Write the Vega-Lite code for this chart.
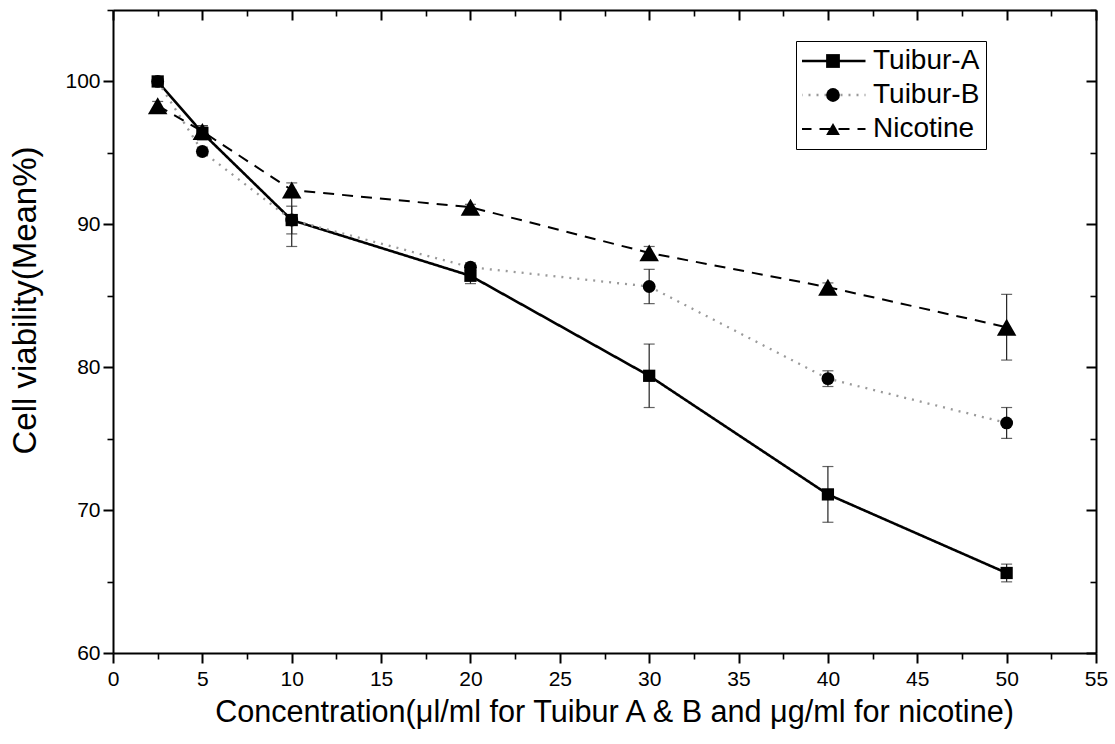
{
  "$schema": "https://vega.github.io/schema/vega-lite/v6.json",
  "autosize": "none",
  "width": 983,
  "height": 643,
  "padding": {"left": 113, "top": 10, "right": 19, "bottom": 91},
  "background": "white",
  "config": {
    "view": {"stroke": null},
    "font": "Liberation Sans",
    "axis": {
      "domainColor": "black",
      "domainWidth": 2,
      "tickColor": "black",
      "tickWidth": 2,
      "labelColor": "black",
      "titleColor": "black",
      "labelFont": "Liberation Sans",
      "titleFont": "Liberation Sans",
      "titleFontWeight": "normal",
      "grid": false
    }
  },
  "data": {
    "values": [
      {"series": "Tuibur-A", "conc": 2.5, "mean": 100.0, "err": 0.2},
      {"series": "Tuibur-A", "conc": 5, "mean": 96.4, "err": 0.5},
      {"series": "Tuibur-A", "conc": 10, "mean": 90.3, "err": 0.97},
      {"series": "Tuibur-A", "conc": 20, "mean": 86.4, "err": 0.55},
      {"series": "Tuibur-A", "conc": 30, "mean": 79.4, "err": 2.22},
      {"series": "Tuibur-A", "conc": 40, "mean": 71.1, "err": 1.95},
      {"series": "Tuibur-A", "conc": 50, "mean": 65.6, "err": 0.62},
      {"series": "Tuibur-B", "conc": 2.5, "mean": 100.0, "err": 0.2},
      {"series": "Tuibur-B", "conc": 5, "mean": 95.1, "err": 0.3},
      {"series": "Tuibur-B", "conc": 10, "mean": 90.3, "err": 1.85},
      {"series": "Tuibur-B", "conc": 20, "mean": 87.0, "err": 0.3},
      {"series": "Tuibur-B", "conc": 30, "mean": 85.65, "err": 1.2},
      {"series": "Tuibur-B", "conc": 40, "mean": 79.2, "err": 0.55},
      {"series": "Tuibur-B", "conc": 50, "mean": 76.1, "err": 1.08},
      {"series": "Nicotine", "conc": 2.5, "mean": 98.3, "err": 0.3},
      {"series": "Nicotine", "conc": 5, "mean": 96.5, "err": 0.4},
      {"series": "Nicotine", "conc": 10, "mean": 92.4, "err": 0.5},
      {"series": "Nicotine", "conc": 20, "mean": 91.2, "err": 0.2},
      {"series": "Nicotine", "conc": 30, "mean": 88.0, "err": 0.45},
      {"series": "Nicotine", "conc": 40, "mean": 85.6, "err": 0.3},
      {"series": "Nicotine", "conc": 50, "mean": 82.8, "err": 2.3}
    ]
  },
  "layer": [
    {
      "mark": {"type": "line", "clip": true},
      "encoding": {
        "x": {"field": "conc", "type": "quantitative",
          "scale": {"domain": [0, 55], "nice": false, "zero": false},
          "axis": {"orient": "bottom", "values": [0,5,10,15,20,25,30,35,40,45,50,55], "tickSize": 10, "labelFontSize": 21, "labelPadding": 5, "labelFlush": false, "labelOverlap": false,
            "title": "Concentration(μl/ml for Tuibur A & B and μg/ml for nicotine)", "titleFontSize": 30.6, "titlePadding": 8, "titleX": 501}},
        "y": {"field": "mean", "type": "quantitative",
          "scale": {"domain": [60, 105], "nice": false, "zero": false},
          "axis": {"orient": "left", "values": [60,70,80,90,100], "tickSize": 10, "labelFontSize": 21, "labelPadding": 3, "labelFlush": false,
            "title": "Cell viability(Mean%)", "titleFontSize": 33, "titlePadding": 22, "titleY": 290}},
        "detail": {"field": "series"},
        "color": {"field": "series", "type": "nominal",
          "scale": {"domain": ["Tuibur-A", "Tuibur-B", "Nicotine"], "range": ["black", "#9a9a9a", "black"]},
          "legend": {
            "title": null,
            "orient": "none",
            "legendX": 683,
            "legendY": 31,
            "padding": 6,
            "strokeColor": "black",
            "fillColor": "transparent",
            "labelFont": "Liberation Sans",
            "labelFontSize": 28,
            "labelColor": "black",
            "symbolType": "stroke",
            "symbolSize": 4225,
            "symbolOffset": -3,
            "labelOffset": 6,
            "clipHeight": 28,
            "rowPadding": 6
          }},
        "strokeDash": {"field": "series", "type": "nominal",
          "scale": {"domain": ["Tuibur-A", "Tuibur-B", "Nicotine"], "range": [[1, 0], [2, 6], [11, 8]]}},
        "strokeWidth": {"field": "series", "type": "nominal",
          "scale": {"domain": ["Tuibur-A", "Tuibur-B", "Nicotine"], "range": [2.6, 2, 3]}}
      }
    },
    {
      "mark": {"type": "errorbar", "color": "#222", "ticks": {"size": 11, "thickness": 1.2}, "rule": {"strokeWidth": 1.2}},
      "encoding": {
        "x": {"field": "conc", "type": "quantitative", "axis": null},
        "y": {"field": "mean", "type": "quantitative", "axis": null},
        "yError": {"field": "err"},
        "detail": {"field": "series"}
      }
    },
    {
      "transform": [{"filter": "datum.series === 'Tuibur-B'"}],
      "mark": {"type": "point", "filled": true, "color": "black", "opacity": 1, "shape": "circle", "size": 165},
      "encoding": {
        "x": {"field": "conc", "type": "quantitative",
          "axis": {"orient": "bottom", "values": [2.5,7.5,12.5,17.5,22.5,27.5,32.5,37.5,42.5,47.5,52.5], "tickSize": 6, "tickWidth": 1.6, "labels": false, "domain": false, "title": null}},
        "y": {"field": "mean", "type": "quantitative",
          "axis": {"orient": "left", "values": [65,75,85,95,105], "tickSize": 6, "tickWidth": 1.6, "labels": false, "domain": false, "title": null}}
      }
    },
    {
      "transform": [{"filter": "datum.series === 'Nicotine'"}],
      "mark": {"type": "point", "filled": true, "color": "black", "opacity": 1, "shape": "triangle-up", "size": 380},
      "encoding": {
        "x": {"field": "conc", "type": "quantitative", "axis": null},
        "y": {"field": "mean", "type": "quantitative", "axis": null}
      }
    },
    {
      "transform": [{"filter": "datum.series === 'Tuibur-A'"}],
      "mark": {"type": "point", "filled": true, "color": "black", "opacity": 1, "shape": "square", "size": 150},
      "encoding": {
        "x": {"field": "conc", "type": "quantitative", "axis": null},
        "y": {"field": "mean", "type": "quantitative", "axis": null}
      }
    },
    {
      "mark": {"type": "point", "filled": true, "color": "black", "opacity": 0},
      "encoding": {
        "x": {"field": "conc", "type": "quantitative", "axis": null},
        "y": {"field": "mean", "type": "quantitative", "axis": null},
        "shape": {"field": "series", "type": "nominal", "sort": ["Tuibur-A", "Tuibur-B", "Nicotine"],
          "scale": {"range": ["square", "circle", "triangle-up"]},
          "legend": {
            "title": null,
            "orient": "none",
            "legendX": 683,
            "legendY": 31,
            "padding": 6,
            "strokeColor": "transparent",
            "fillColor": "transparent",
            "labelFont": "Liberation Sans",
            "labelFontSize": 28,
            "labelExpr": "''",
            "symbolSize": 190,
            "symbolOffset": 17,
            "labelOffset": 3,
            "clipHeight": 28,
            "rowPadding": 6,
            "symbolFillColor": "black",
            "symbolStrokeColor": "transparent"
          }}
      }
    },
    {
      "mark": {"type": "point", "filled": true, "color": "black", "opacity": 0},
      "encoding": {
        "x": {"field": "conc", "type": "quantitative",
          "axis": {"orient": "top", "values": [0,5,10,15,20,25,30,35,40,45,50,55], "tickSize": -10, "labels": false, "title": null}},
        "y": {"field": "mean", "type": "quantitative",
          "axis": {"orient": "right", "values": [60,70,80,90,100], "tickSize": -10, "labels": false, "title": null}}
      }
    },
    {
      "mark": {"type": "point", "filled": true, "color": "black", "opacity": 0},
      "encoding": {
        "x": {"field": "conc", "type": "quantitative",
          "axis": {"orient": "top", "values": [2.5,7.5,12.5,17.5,22.5,27.5,32.5,37.5,42.5,47.5,52.5], "tickSize": -6, "tickWidth": 1.6, "labels": false, "domain": false, "title": null}},
        "y": {"field": "mean", "type": "quantitative",
          "axis": {"orient": "right", "values": [65,75,85,95,105], "tickSize": -6, "tickWidth": 1.6, "labels": false, "domain": false, "title": null}}
      }
    }
  ],
  "resolve": {
    "axis": {"x": "independent", "y": "independent"}
  }
}
